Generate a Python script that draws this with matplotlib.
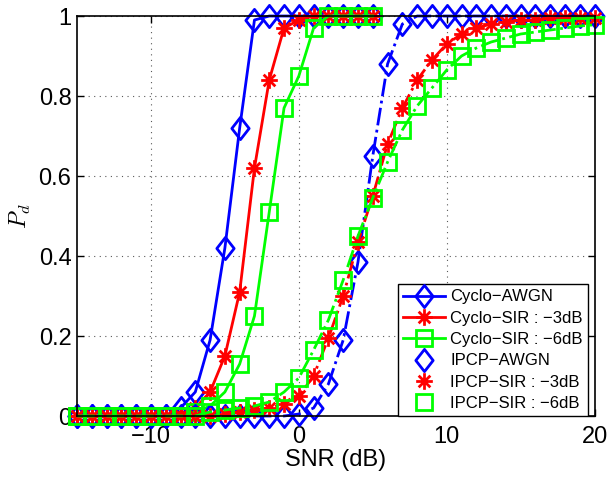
import matplotlib
matplotlib.use('Agg')
import matplotlib.pyplot as plt
from matplotlib.path import Path

# оси SNR
snr_cyclo = [-15, -14, -13, -12, -11, -10, -9, -8, -7, -6, -5, -4, -3, -2, -1,
             0, 1, 2, 3, 4, 5]
snr_ipcp = [-15, -14, -13, -12, -11, -10, -9, -8, -7, -6, -5, -4, -3, -2, -1,
            0, 1, 2, 3, 4, 5, 6, 7, 8, 9, 10, 11, 12, 13, 14, 15, 16, 17, 18, 19, 20]

# Cyclo кривые
cyclo_awgn = [0, 0, 0, 0, 0, 0, 0, 0.02, 0.06, 0.19, 0.42, 0.72, 0.99,
              1, 1, 1, 1, 1, 1, 1, 1]
cyclo_sir3 = [0, 0, 0, 0, 0, 0, 0, 0.005, 0.02, 0.06, 0.15, 0.31, 0.62,
              0.84, 0.97, 0.99, 1, 1, 1, 1, 1]
cyclo_sir6 = [0, 0, 0, 0, 0, 0, 0, 0, 0.01, 0.025, 0.06, 0.13, 0.25,
              0.51, 0.77, 0.85, 0.97, 1, 1, 1, 1]

# IPCP кривые
ipcp_awgn = [0, 0, 0, 0, 0, 0, 0, 0, 0, 0, 0, 0, 0, 0, 0,
             0.005, 0.02, 0.08, 0.19, 0.385, 0.65, 0.88, 0.98,
             1, 1, 1, 1, 1, 1, 1, 1, 1, 1, 1, 1, 1]
ipcp_sir3 = [0, 0, 0, 0, 0, 0, 0, 0, 0, 0, 0.005, 0.01, 0.015, 0.02, 0.03,
             0.05, 0.10, 0.195, 0.30, 0.435, 0.55, 0.68, 0.77, 0.84, 0.89,
             0.93, 0.955, 0.97, 0.98, 0.985, 0.99, 0.99, 0.995, 0.995, 0.995, 0.995]
ipcp_sir6 = [0, 0, 0, 0, 0, 0, 0, 0, 0, 0.01, 0.015, 0.02, 0.025, 0.035, 0.06,
             0.095, 0.165, 0.24, 0.34, 0.45, 0.545, 0.635, 0.715, 0.775, 0.82,
             0.865, 0.9, 0.92, 0.935, 0.945, 0.955, 0.96, 0.965, 0.97, 0.975, 0.978]

labels = ['Cyclo\u2212AWGN', 'Cyclo\u2212SIR : \u22123dB', 'Cyclo\u2212SIR : \u22126dB',
          'IPCP\u2212AWGN', 'IPCP\u2212SIR : \u22123dB', 'IPCP\u2212SIR : \u22126dB']

plt.rcParams['font.family'] = ['Liberation Sans', 'DejaVu Sans']
plt.rcParams['mathtext.fontset'] = 'cm'

# маркеры в стиле matlab
diamond = Path([(0, 1), (0.78, 0), (0, -1), (-0.78, 0), (0, 1)], closed=True)
star = Path([(-1, 0), (1, 0), (0, -1), (0, 1),
             (-0.7, -0.7), (0.7, 0.7), (-0.7, 0.7), (0.7, -0.7)],
            [Path.MOVETO, Path.LINETO] * 4)

fig = plt.figure(figsize=(6.13, 4.78), dpi=100)
ax = fig.add_axes([0.1256, 0.1297, 0.8444, 0.8368])

styles = [('b', diamond, 16), ('r', star, 12), ('#00ff00', 's', 11)]
cyclo = [cyclo_awgn, cyclo_sir3, cyclo_sir6]
ipcp = [ipcp_awgn, ipcp_sir3, ipcp_sir6]

for i in range(3):
    c, m, ms = styles[i]
    ax.plot(snr_cyclo, cyclo[i], '-', color=c, lw=2, marker=m, ms=ms,
            mfc='none', mec=c, mew=2, clip_on=False, label=labels[i])
for i in range(3):
    c, m, ms = styles[i]
    ax.plot(snr_ipcp, ipcp[i], '-.', color=c, lw=2, clip_on=False)
    ax.plot(snr_ipcp, ipcp[i], 'none', marker=m, ms=ms, mfc='none', mec=c,
            mew=2, clip_on=False, label=labels[3 + i])

ax.set_xlim(-15, 20)
ax.set_ylim(0, 1)
ax.set_xticks([-10, 0, 10, 20])
ax.set_xticklabels(['\u221210', '0', '10', '20'])
ax.set_yticks([0, 0.2, 0.4, 0.6, 0.8, 1])
ax.set_yticklabels(['0', '0.2', '0.4', '0.6', '0.8', '1'])
ax.tick_params(direction='in', top=True, right=True, length=5, width=1,
               labelsize=17, pad=4)
ax.tick_params(axis='x', pad=7)
for s in ax.spines.values():
    s.set_linewidth(1.2)
ax.grid(True, color='0.35', linestyle=(0, (1, 4)), lw=0.8)

ax.set_xlabel('SNR (dB)', fontsize=17, labelpad=1)
ax.set_ylabel('$P_d$', fontsize=17, labelpad=4)

leg = ax.legend(loc='lower right', bbox_to_anchor=(0.9865, 0.0),
                borderaxespad=0, fontsize=12, fancybox=False,
                edgecolor='k', framealpha=1, handlelength=2.5,
                handletextpad=0.3, labelspacing=0.38, borderpad=0.3)
leg.get_frame().set_linewidth(1)

fig.savefig('out.png', dpi=100)
